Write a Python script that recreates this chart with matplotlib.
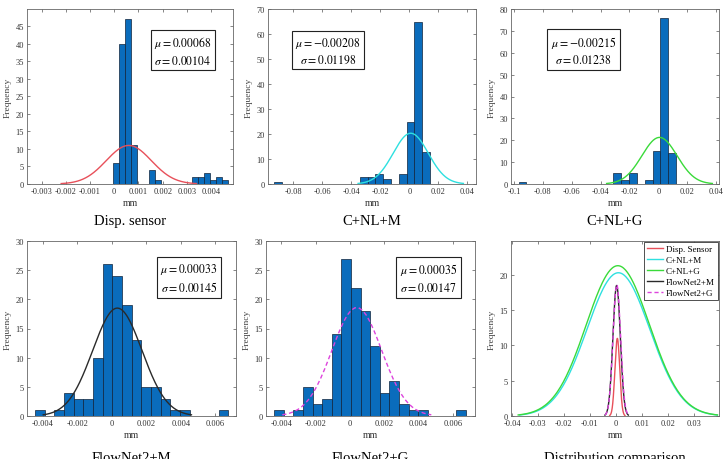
import numpy as np
import matplotlib
matplotlib.use('Agg')
import matplotlib.pyplot as plt
from matplotlib.ticker import FuncFormatter

# panel names
titles = ['Disp. sensor', 'C+NL+M', 'C+NL+G', 'FlowNet2+M', 'FlowNet2+G']
legend_names = ['Disp. Sensor', 'C+NL+M', 'C+NL+G', 'FlowNet2+M', 'FlowNet2+G']

# histograms: first bin edge, bin width, counts per bin
bin_start = [-0.00006, -0.0930, -0.0968, -0.00444, -0.00442]
bin_width = [0.00025, 0.00536, 0.00546, 0.00056, 0.00056]
counts_disp = [6, 40, 47, 11, 0, 0, 4, 1, 0, 0, 0, 0, 0, 2, 2, 3, 1, 2, 1]
counts_cnlm = [1, 0, 0, 0, 0, 0, 0, 0, 0, 0, 0, 3, 3, 4, 2, 0, 4, 25, 65, 13]
counts_cnlg = [1, 0, 0, 0, 0, 0, 0, 0, 0, 0, 0, 0, 5, 2, 5, 0, 2, 15, 76, 14]
counts_fn2m = [1, 0, 1, 4, 3, 3, 10, 26, 24, 19, 13, 5, 5, 3, 1, 1, 0, 0, 0, 1]
counts_fn2g = [1, 0, 1, 5, 2, 3, 14, 27, 22, 18, 12, 4, 6, 2, 1, 1, 0, 0, 0, 1]
all_counts = [counts_disp, counts_cnlm, counts_cnlg, counts_fn2m, counts_fn2g]

# statistics printed in the boxes
mu_text = ['0.00068', '-0.00208', '-0.00215', '0.00033', '0.00035']
sigma_text = ['0.00104', '0.01198', '0.01238', '0.00145', '0.00147']

# fitted normal curves as they are drawn (centre, spread, peak height)
fit_mu = [0.0006, 0.0010, 0.0008, 0.00033, 0.00040]
fit_sigma = [0.00093, 0.0121, 0.0122, 0.00143, 0.00145]
fit_peak = [11.0, 20.3, 21.3, 18.5, 18.6]

# axis settings
xlims = [(-0.0036, 0.0049), (-0.0974, 0.046), (-0.102, 0.042),
         (-0.0049, 0.0072), (-0.0049, 0.0073), (-0.0404, 0.0398)]
xticks = [np.arange(-0.003, 0.0041, 0.001), np.arange(-0.08, 0.041, 0.02),
          np.arange(-0.1, 0.041, 0.02), np.arange(-0.004, 0.0061, 0.002),
          np.arange(-0.004, 0.0061, 0.002), np.arange(-0.04, 0.031, 0.01)]
ylims = [(0, 49.9), (0, 70), (0, 80), (0, 30), (0, 30), (0, 24.8)]
yticks = [np.arange(0, 46, 5), np.arange(0, 71, 10), np.arange(0, 81, 10),
          np.arange(0, 31, 5), np.arange(0, 31, 5), np.arange(0, 21, 5)]

colors = ['#e8505a', '#2ee0e0', '#3ada3a', '#2a2a2a', '#dd44dd']
styles = ['-', '-', '-', '-', '--']
box_pos = [(0.757, 0.763), (0.288, 0.763), (0.348, 0.766), (0.775, 0.789), (0.778, 0.79)]

plt.rcParams['font.family'] = 'serif'
plt.rcParams['font.serif'] = ['Liberation Serif', 'DejaVu Serif']
plt.rcParams['mathtext.fontset'] = 'stix'
plt.rcParams['axes.unicode_minus'] = False

W, H = 728, 460
fig = plt.figure(figsize = (W / 100, H / 100), dpi = 100)

# axes rectangles in pixels: left, right, top, bottom
rects = [(27, 233, 10, 185), (268, 476, 10, 185), (511, 719, 10, 185),
         (27, 236, 242, 417), (266, 475, 242, 417), (511, 719, 242, 417)]

def tick_fmt(v, p):
    if abs(v) < 1e-12:
        return '0'
    return '%g' % round(v, 6)

def normal_curve(i, span = 3.0, n = 200):
    xs = np.linspace(fit_mu[i] - span * fit_sigma[i], fit_mu[i] + span * fit_sigma[i], n)
    return xs, fit_peak[i] * np.exp(-0.5 * ((xs - fit_mu[i]) / fit_sigma[i])**2)

axes = []
for k, (l, r, t, b) in enumerate(rects):
    ax = fig.add_axes([l / W, (H - b) / H, (r - l) / W, (b - t) / H])
    ax.set_xlim(*xlims[k])
    ax.set_ylim(*ylims[k])
    ax.set_xticks(xticks[k])
    ax.set_yticks(yticks[k])
    ax.xaxis.set_major_formatter(FuncFormatter(tick_fmt))
    ax.tick_params(direction = 'in', top = True, right = True, length = 2.5, width = 0.5,
                   color = '#555555', labelsize = 6, labelcolor = '#333333', pad = 2)
    for s in ax.spines.values():
        s.set_color('#666666')
        s.set_linewidth(0.6)
    ax.set_ylabel('Frequency', fontsize = 6.8, color = '#444444', labelpad = 3)
    ax.set_xlabel('mm', fontsize = 7.2, color = '#333333', labelpad = 2.5)
    axes.append(ax)

# histogram panels
for i in range(5):
    ax = axes[i]
    c = np.array(all_counts[i])
    edges = bin_start[i] + bin_width[i] * np.arange(len(c))
    keep = c > 0
    ax.bar(edges[keep], c[keep], width = bin_width[i], align = 'edge',
           color = '#0a6cbc', edgecolor = '#10233a', linewidth = 0.5, zorder = 2)
    xs, ys = normal_curve(i, n = 200 if i < 4 else 40)
    ax.plot(xs, ys, color = colors[i], linestyle = styles[i], linewidth = 1.0, zorder = 3,
            dashes = (3, 2) if styles[i] == '--' else (None, None))
    ax.text(box_pos[i][0], box_pos[i][1],
            '$\\mu = %s$\n$\\sigma = %s$' % (mu_text[i], sigma_text[i]),
            transform = ax.transAxes, ha = 'center', va = 'center', fontsize = 8.5,
            linespacing = 1.35, zorder = 5,
            bbox = dict(boxstyle = 'square,pad=0.3', fc = 'white', ec = '#222222', lw = 0.8))

# distribution comparison
ax = axes[5]
for i in [0, 1, 2, 3, 4]:
    xs, ys = normal_curve(i, span = 3.15)
    if styles[i] == '--':
        ax.plot(xs, ys, color = colors[i], linewidth = 1.0, dashes = (3, 2), label = legend_names[i])
    else:
        ax.plot(xs, ys, color = colors[i], linewidth = 1.0, label = legend_names[i])
leg = ax.legend(loc = 'upper right', fontsize = 6.5, frameon = True, fancybox = False,
                framealpha = 1, edgecolor = '#333333', borderpad = 0.3, labelspacing = 0.3,
                handlelength = 1.8, handletextpad = 0.3, borderaxespad = 0.15)
leg.get_frame().set_linewidth(0.6)

# panel titles under each axes
row_title_y = [222, 459]
for k, name in enumerate(titles + ['Distribution comparison']):
    l, r, t, b = rects[k]
    yy = row_title_y[0] if k < 3 else row_title_y[1]
    fig.text((l + r) / 2 / W, (H - yy) / H, name, ha = 'center', va = 'center', fontsize = 10.5)

fig.savefig('out.png', dpi = 100)
